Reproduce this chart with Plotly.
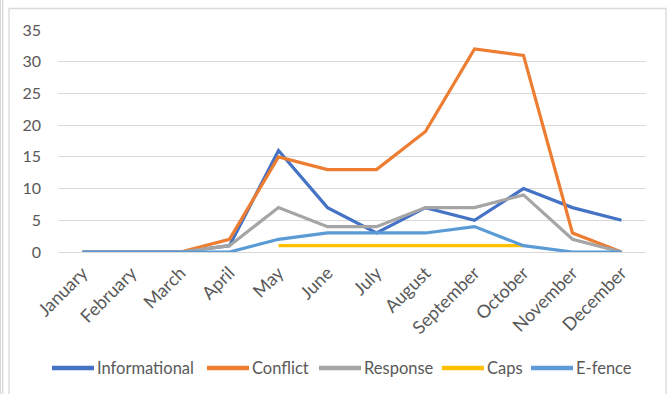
import plotly.graph_objects as go

# Monthly counts per category
months = ["January", "February", "March", "April", "May", "June", "July",
          "August", "September", "October", "November", "December"]
informational = [0, 0, 0, 1, 16, 7, 3, 7, 5, 10, 7, 5]
conflict = [0, 0, 0, 2, 15, 13, 13, 19, 32, 31, 3, 0]
response = [0, 0, 0, 1, 7, 4, 4, 7, 7, 9, 2, 0]
caps = [None, None, None, None, 1, 1, 1, 1, 1, 1, None, None]
efence = [0, 0, 0, 0, 2, 3, 3, 3, 4, 1, 0, 0]
y_ticks = [0, 5, 10, 15, 20, 25, 30, 35]

series_names = ["Informational", "Conflict", "Response", "Caps", "E-fence"]
series_values = [informational, conflict, response, caps, efence]
series_colors = ["#4472C4", "#ED7D31", "#A5A5A5", "#FFC000", "#5B9BD5"]

W, H = 668, 394
L, R, T, B = 58, 646, 30, 252  # plot area in pixels

FONT = "Lato, Liberation Sans, sans-serif"
GRAY = "#595959"

fig = go.Figure()
for name, vals, color in zip(series_names, series_values, series_colors):
    fig.add_trace(go.Scatter(
        x=months, y=vals, name=name, mode="lines",
        line=dict(color=color, width=3.2),
        connectgaps=False, showlegend=False,
    ))


def px_x(v):
    return (v - L) / (R - L)


def px_y(v):
    return (B - v) / (B - T)


border = dict(color="#D9D9D9", width=1.3)
shapes = [
    # chart frame
    dict(type="rect", xref="paper", yref="paper",
         x0=px_x(9), x1=px_x(666), y0=px_y(8.5), y1=px_y(400),
         line=border, fillcolor="rgba(0,0,0,0)", layer="below"),
    # outer edge lines at the left
    dict(type="line", xref="paper", yref="paper",
         x0=px_x(0.5), x1=px_x(0.5), y0=px_y(0), y1=px_y(400), line=border),
    dict(type="line", xref="paper", yref="paper",
         x0=px_x(2.7), x1=px_x(2.7), y0=px_y(0), y1=px_y(400), line=border),
]

# Legend row below the axis: a line swatch followed by the series name
legend_y = 368
legend_swatch_x = [52, 207, 319, 442, 531]
swatch_len = 42
annotations = []
for name, color, sx in zip(series_names, series_colors, legend_swatch_x):
    shapes.append(dict(
        type="line", xref="paper", yref="paper",
        x0=px_x(sx), x1=px_x(sx + swatch_len),
        y0=px_y(legend_y), y1=px_y(legend_y),
        line=dict(color=color, width=4.5),
    ))
    annotations.append(dict(
        text=name, xref="paper", yref="paper",
        x=px_x(sx + swatch_len + 2), y=px_y(legend_y),
        xanchor="left", yanchor="middle", showarrow=False,
        font=dict(family=FONT, size=16.5, color=GRAY),
        xshift=0, borderpad=0,
    ))

fig.update_layout(
    width=W, height=H,
    margin=dict(l=L, r=W - R, t=T, b=H - B),
    paper_bgcolor="white", plot_bgcolor="white",
    font=dict(family=FONT, size=16, color=GRAY),
    showlegend=False,
    xaxis=dict(
        type="category", categoryarray=months, range=[-0.5, 11.5],
        showgrid=False, showline=False, zeroline=False, ticks="",
        tickangle=-45, ticklabelstandoff=6,
        tickfont=dict(family=FONT, size=18, color=GRAY),
        automargin=False, fixedrange=True,
    ),
    yaxis=dict(
        range=[0, 35], tickvals=y_ticks, showgrid=True,
        gridcolor="#D9D9D9", gridwidth=1.3, zeroline=True,
        zerolinecolor="#D9D9D9", zerolinewidth=1.3, showline=False,
        ticks="", ticklabelstandoff=16,
        tickfont=dict(family=FONT, size=16, color=GRAY),
        automargin=False, fixedrange=True,
    ),
    shapes=shapes,
    annotations=annotations,
)

fig.write_html("out.html")
